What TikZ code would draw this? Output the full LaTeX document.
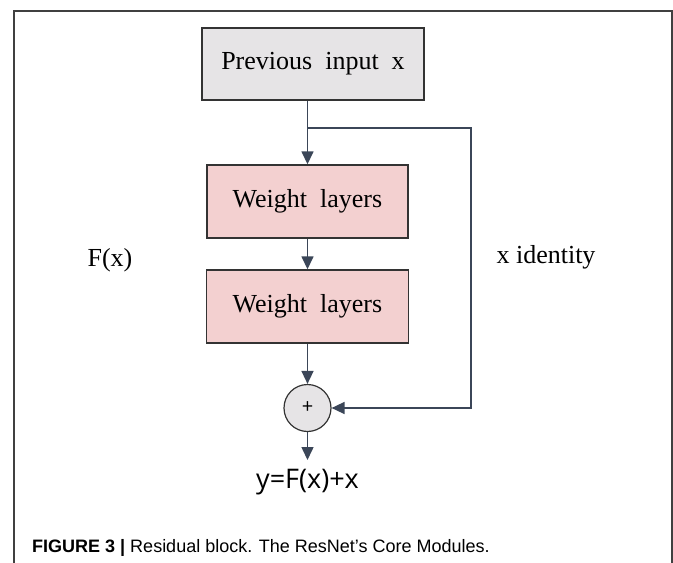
\documentclass[tikz,border=0pt]{standalone}
\usepackage{fontspec}
\setmainfont{Liberation Serif}
\newfontfamily\capfont{Liberation Sans}
\newfontfamily\eqfont{Open Sans}
\usetikzlibrary{arrows.meta}
\definecolor{linecol}{HTML}{3B4658}
\definecolor{pinkfill}{HTML}{F3D0D0}
\definecolor{greyfill}{HTML}{E6E4E6}
\tikzset{
  blk/.style={draw=black!80,line width=1.4pt,minimum height=73pt,inner sep=0pt,font=\fontsize{26}{30}\selectfont},
  arr/.style={draw=linecol,line width=1.5pt,-{Triangle[length=13pt,width=12pt]}},
  lbl/.style={font=\fontsize{26}{30}\selectfont}
}
\begin{document}
\begin{tikzpicture}[x=1pt,y=-1pt]
 \useasboundingbox (0,0) rectangle (673,563);
 \draw[line width=1.5pt,black!75] (14,563) -- (14,11) -- (672,11) -- (672,563);
 \node[blk,fill=greyfill,minimum width=222pt,minimum height=72pt] (prev) at (313,64) {Previous\ \ input\ \ x};
 \node[blk,fill=pinkfill,minimum width=201pt] (w1) at (307.5,201.5) {Weight\ \ layers};
 \node[blk,fill=pinkfill,minimum width=202pt] (w2) at (307.5,306.5) {Weight\ \ layers};
 \node[circle,draw=black!80,fill=greyfill,line width=1.2pt,minimum size=47pt,inner sep=0pt,font=\eqfont\fontsize{20}{22}\selectfont] (add) at (307.5,408) {+};
 \coordinate (split) at (307.5,128);
 \coordinate (corner) at (471,128);
 \coordinate (out) at (307.5,460);
 \node[lbl] (fx) at (110,260) {F(x)};
 \node[lbl] (idlab) at (546,257) {x identity};
 \node[font=\eqfont\fontsize{27}{30}\selectfont] (res) at (307.5,482) {y=F(x)+x};
 \node[anchor=base west,font=\capfont\fontsize{18}{21}\selectfont,inner sep=0pt] (cap) at (32,552) {\textbf{FIGURE 3 |} Residual block. The ResNet’s Core Modules.};
 \draw[arr] (prev.south -| split) -- (w1.north);
 \draw[arr] (w1) -- (w2);
 \draw[arr] (w2) -- (add);
 \draw[arr] (split) -- (corner) |- (add.east);
 \draw[arr] (add) -- (out);
\end{tikzpicture}
\end{document}
